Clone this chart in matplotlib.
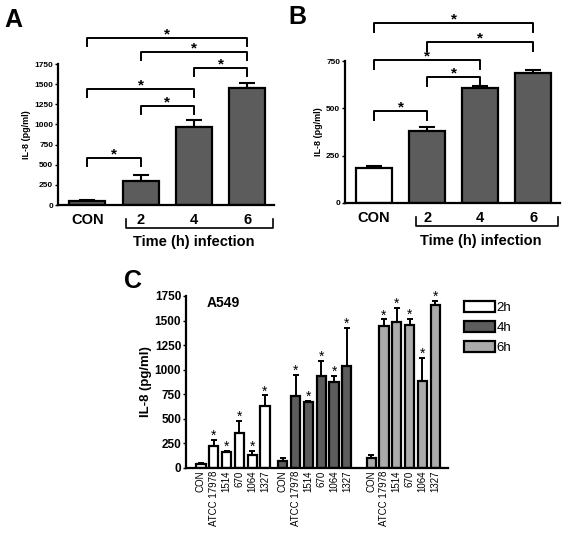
import numpy as np
import matplotlib
matplotlib.use('Agg')
import matplotlib.pyplot as plt
from matplotlib.patches import Patch
import matplotlib.transforms as mtransforms

plt.rcParams['font.family'] = ['Liberation Sans', 'DejaVu Sans']

# panel A data
a_labels = ['CON', '2', '4', '6']
a_vals = [50, 300, 970, 1450]
a_err = [10, 75, 90, 65]
a_pairs = [(0, 1), (1, 2), (0, 2), (2, 3), (1, 3), (0, 3)]
a_pair_y = [583, 1229, 1440, 1700, 1899, 2072]

# panel B data
b_labels = ['CON', '2', '4', '6']
b_vals = [183, 378, 605, 687]
b_err = [14, 22, 15, 18]
b_pairs = [(0, 1), (1, 2), (0, 2), (1, 3), (0, 3)]
b_pair_y = [486, 665, 755, 850, 950]

# panel C data
c_strains = ['CON', 'ATCC 17978', '1514', '670', '1064', '1327']
c_groups = ['2h', '4h', '6h']
c_2h = [45, 220, 160, 355, 135, 626]
c_2h_err = [10, 68, 16, 125, 41, 112]
c_4h = [75, 728, 667, 938, 873, 1039]
c_4h_err = [30, 220, 17, 155, 68, 389]
c_6h = [100, 1445, 1486, 1452, 890, 1659]
c_6h_err = [32, 68, 146, 65, 227, 40]

DARK = '#5c5c5c'
LIGHT = '#ababab'
LW = 1.6

fig = plt.figure(figsize=(5.64, 5.37), dpi=100)


def style_ax(ax, ymax, step, tick_fs):
    for s in ['top', 'right']:
        ax.spines[s].set_visible(False)
    for s in ['left', 'bottom']:
        ax.spines[s].set_linewidth(LW)
    ax.set_ylim(0, ymax)
    ax.set_yticks(np.arange(0, ymax + 1, step))
    ax.tick_params(axis='y', length=2.5, width=1, pad=1, labelsize=tick_fs)
    ax.tick_params(axis='x', length=0)
    for t in ax.get_yticklabels():
        t.set_fontweight('bold')


def top_panel(rect, labels, vals, err, colors, pairs, pair_y, ymax, step, drop, letter, letter_xy, bracket_x):
    ax = fig.add_axes(rect)
    x = np.arange(len(vals))
    ax.bar(x, vals, width=0.68, color=colors, edgecolor='black', linewidth=LW, zorder=2)
    ax.errorbar(x, vals, yerr=[np.zeros(len(err)), err], fmt='none', ecolor='black',
                elinewidth=1.5, capsize=5.5, capthick=1.5, zorder=1)
    ax.set_xlim(-0.55, 3.5)
    style_ax(ax, ymax, step, 6)
    ax.set_xticks(x)
    ax.set_xticklabels(labels, fontsize=10.5, fontweight='bold')
    ax.tick_params(axis='x', pad=6)
    ax.set_ylabel('IL-8 (pg/ml)', fontsize=6.5, fontweight='bold', labelpad=2)
    for (i, j), y in zip(pairs, pair_y):
        ax.plot([i, i, j, j], [y - drop, y, y, y - drop], color='black', lw=1.4, clip_on=False)
        ax.text((i + j) / 2, y, '*', ha='center', va='baseline', fontsize=11,
                fontweight='bold', clip_on=False)
    tr = mtransforms.blended_transform_factory(ax.transData, ax.transAxes)
    ax.plot([bracket_x[0], bracket_x[0], bracket_x[1], bracket_x[1]],
            [-0.1, -0.165, -0.165, -0.1], color='black', lw=1.2, transform=tr, clip_on=False)
    ax.text(2, -0.215, 'Time (h) infection', transform=tr, ha='center', va='top',
            fontsize=10.5, fontweight='bold')
    fig.text(letter_xy[0], letter_xy[1], letter, fontsize=18, fontweight='bold', ha='left', va='top')
    return ax


top_panel([0.1028, 0.6182, 0.383, 0.2626], a_labels, a_vals, a_err, [DARK] * 4,
          a_pairs, a_pair_y, 1750, 250, 100, 'A', (0.008, 0.985), (0.73, 3.48))
top_panel([0.6117, 0.622, 0.381, 0.2644], b_labels, b_vals, b_err, ['white'] + [DARK] * 3,
          b_pairs, b_pair_y, 750, 250, 45, 'B', (0.511, 0.99), (0.78, 3.46))

# panel C
axc = fig.add_axes([0.3298, 0.1285, 0.4645, 0.3203])
offsets = [0, 6.4, 13.3]
series = [(c_2h, c_2h_err, 'white'), (c_4h, c_4h_err, DARK), (c_6h, c_6h_err, LIGHT)]
ticks, ticklabels, handles = [], [], []
for off, (vals, err, col), name in zip(offsets, series, c_groups):
    x = np.arange(len(vals)) + off
    axc.bar(x, vals, width=0.72, color=col, edgecolor='black', linewidth=LW, zorder=2)
    axc.errorbar(x, vals, yerr=[np.zeros(len(err)), err], fmt='none', ecolor='black',
                 elinewidth=1.4, capsize=2.5, capthick=1.4, zorder=1)
    for xi, v, e in list(zip(x, vals, err))[1:]:
        axc.annotate('*', (xi, v + e), xytext=(0, 0), textcoords='offset points',
                     ha='center', va='baseline', fontsize=10)
    ticks += list(x)
    ticklabels += c_strains
    handles.append(Patch(facecolor=col, edgecolor='black', linewidth=LW, label=name))
axc.set_xlim(-1.17, 19.3)
style_ax(axc, 1750, 250, 8.5)
axc.set_xticks(ticks)
axc.set_xticklabels(ticklabels, rotation=90, fontsize=7)
axc.tick_params(axis='x', pad=2)
axc.set_ylabel('IL-8 (pg/ml)', fontsize=9.5, fontweight='bold', labelpad=2)
axc.text(0.47, 1680, 'A549', ha='left', va='center', fontsize=10, fontweight='bold')
axc.legend(handles=handles, loc='upper left', bbox_to_anchor=(0.822, 0.44),
           bbox_transform=fig.transFigure, frameon=False, fontsize=9.5,
           handlelength=2.4, handleheight=0.9, handletextpad=0.1, labelspacing=0.55,
           borderpad=0, borderaxespad=0)
fig.text(0.22, 0.5, 'C', fontsize=18, fontweight='bold', ha='left', va='top')

fig.savefig('out.png', dpi=100)
